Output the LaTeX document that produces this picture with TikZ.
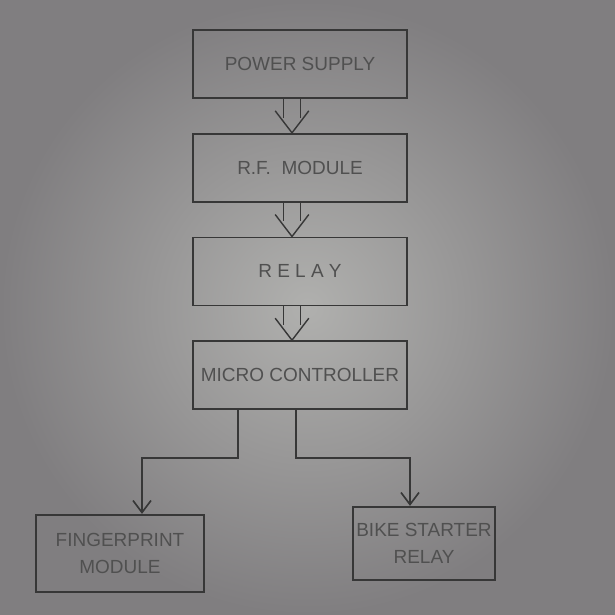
\documentclass[tikz,border=0pt]{standalone}
\usepackage{fontspec}
\setmainfont{Liberation Sans}
\usepackage{tikz}
\usetikzlibrary{arrows.meta, positioning, calc}
\usepackage{xcolor}
\definecolor{paperlight}{RGB}{176,176,174}
\definecolor{paperdark}{RGB}{128,126,128}
\definecolor{pencil}{RGB}{55,55,55}
\definecolor{pentext}{RGB}{80,80,80}
\tikzstyle{block} = [rectangle, draw=pencil, line width=1.2pt, minimum width=5.35cm, minimum height=1.7cm, inner sep=2pt, text=pentext, align=center, font=\fontsize{13.5}{19}\selectfont]
\tikzstyle{shaft} = [draw=pencil, line width=1pt, line join=round]
\tikzstyle{arrow} = [draw=pencil, line width=1.2pt, -{Straight Barb[length=3mm, width=4.5mm]}]

\begin{document}
\begin{tikzpicture}[node distance=0.85cm]
  % paper
  \fill[inner color=paperlight, outer color=paperdark] (0,0) rectangle (15.375,-15.375);
  \useasboundingbox (0,0) rectangle (15.375,-15.375);

  \node[block] (ps) at (7.5,-1.6) {POWER SUPPLY};
  \node[block, below=of ps] (rf) {R.F.\ \ MODULE};
  \node[block, below=of rf] (relay) {R E L A Y};
  \node[block, below=of relay] (mc) {MICRO CONTROLLER};

  \node[block, minimum width=4.2cm, minimum height=1.93cm, below=2.6cm of mc, xshift=-4.5cm] (fp) {FINGERPRINT\\MODULE};
  \node[block, minimum width=3.55cm, minimum height=1.83cm, below=2.4cm of mc, xshift=3.1cm] (bike) {BIKE STARTER\\RELAY};

  % double arrows down the column
  \foreach \a/\b in {ps/rf, rf/relay, relay/mc} {
    \draw[shaft] ([xshift=-0.41cm]\a.south) -- ([xshift=-0.41cm, yshift=0.38cm]\b.north);
    \draw[shaft] ([xshift=0.01cm]\a.south) -- ([xshift=0.01cm, yshift=0.38cm]\b.north);
    \draw[shaft] ([xshift=-0.62cm, yshift=0.55cm]\b.north) -- ([xshift=-0.2cm]\b.north) -- ([xshift=0.22cm, yshift=0.55cm]\b.north);
  }

  \draw[arrow] ([xshift=-1.55cm]mc.south) -- ++(0,-1.2) -| ([xshift=0.55cm]fp.north);
  \draw[arrow] ([xshift=-0.1cm]mc.south) -- ++(0,-1.2) -| ([xshift=-0.35cm]bike.north);
\end{tikzpicture}
\end{document}
